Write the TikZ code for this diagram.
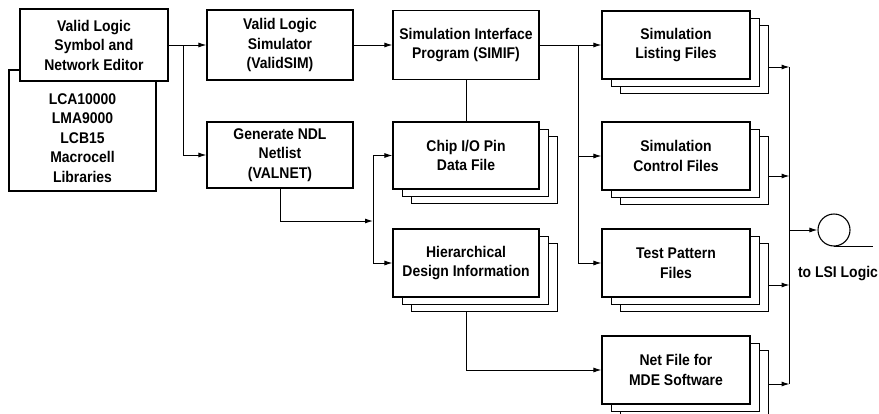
\documentclass[tikz,border=0pt]{standalone}
\usepackage{fontspec}
\setsansfont{Liberation Sans}[FakeStretch=0.9]
\usetikzlibrary{shadows,arrows.meta}
\tikzset{box/.style={rectangle,draw,fill=white,line width=1.1pt,align=center,minimum width=146pt,inner sep=0pt}}
\tikzset{stack/.style={box,minimum width=148pt,minimum height=68pt,double copy shadow={shadow xshift=9pt,shadow yshift=-7pt,line width=0.9pt}}}
\tikzset{arr/.style={-{Latex[length=8pt,width=5pt]}}}
\tikzset{t/.style={align=center,inner sep=0pt}}

\begin{document}
\begin{tikzpicture}[x=1pt,y=-1pt,line width=1pt,font={\fontsize{15.5}{19.5}\selectfont\sffamily\bfseries}]
      \useasboundingbox (0,0) rectangle (879,413);
      % left column
      \node[box,minimum width=147pt,minimum height=121pt] (libs) at (82.5,130.5) {};
      \node[t] (libnames) at (82.5,138) {LCA10000\\LMA9000\\LCB15\\Macrocell\\Libraries};
      \node[box,minimum width=148pt,minimum height=72pt] (edit) at (94,45) {Valid Logic\\Symbol and\\Network Editor};
      \node[box,minimum height=70pt] (vsim) at (280,45) {Valid Logic\\Simulator\\(ValidSIM)};
      \node[box,minimum height=66pt] (ndl) at (280,155) {Generate NDL\\Netlist\\(VALNET)};
      \node[box,minimum height=69pt] (simif) at (466,45) {Simulation Interface\\Program (SIMIF)};
      \node[stack,minimum width=146pt,minimum height=67pt] (chip) at (466,155.5) {Chip I/O Pin\\Data File};
      \node[stack,minimum width=146pt] (hier) at (466,263) {Hierarchical\\Design Information};
      % output files
      \node[stack] (list) at (676,45) {Simulation\\Listing Files};
      \node[stack] (ctrl) at (676,156) {Simulation\\Control Files};
      \node[stack] (test) at (676,263) {Test Pattern\\Files};
      \node[stack] (net) at (676,370) {Net File for\\MDE Software};
      \node[circle,draw,line width=1.1pt,minimum size=32pt,inner sep=0pt] (lsi) at (834,230) {};
      \node[t] (lsitxt) at (838,274) {to LSI Logic};
      \coordinate (s1) at (183,45);
      \coordinate (s2) at (578,45);
      \coordinate (s3) at (373,221);
      \coordinate (bus) at (789,67);
      \coordinate (busend) at (789,384);
      \foreach \a/\b in {edit/vsim,vsim/simif}
        \draw[arr] (\a) -- (\b);
      \draw (simif) -- (chip);
      \draw[arr] (simif.east) -- (list.west);
      \draw[arr] (s1) |- (ndl.west);
      \draw[arr] (s2) |- (ctrl.west);
      \draw[arr] (s2) |- (test.west);
      \draw[arr] (ndl.south) |- (s3);
      \draw[arr] (s3) |- (chip.west);
      \draw[arr] (s3) |- (hier.west);
      \draw[arr] ([yshift=-14pt]hier.south) |- (net.west);
      \foreach \n/\d in {list/22,ctrl/20,test/22,net/14}
        \draw[arr] ([shift={(18,\d)}]\n.east) -- ++(21,0);
      \draw (bus) -- (busend);
      \draw[arr] (bus |- lsi.west) -- (lsi.west);
      \draw (lsi.south) -- ++(39,0);
    \end{tikzpicture}
\end{document}
